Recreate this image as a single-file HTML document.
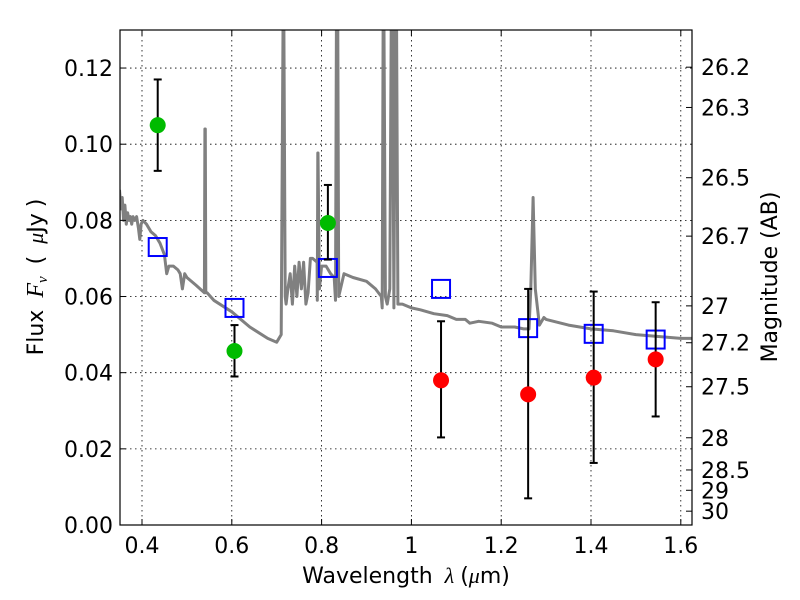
<!DOCTYPE html>
<html><head><meta charset="utf-8"><style>
html,body{margin:0;padding:0;background:#fff;}
svg{display:block;font-family:"DejaVu Sans","Liberation Sans",sans-serif;}
</style></head><body>
<svg id="chart" width="800" height="600" viewBox="0 0 800 600" xmlns="http://www.w3.org/2000/svg"></svg>
<script>
// ---- data ----
const xTicks = [0.4, 0.6, 0.8, 1.0, 1.2, 1.4, 1.6];
const xTickLabels = ["0.4","0.6","0.8","1","1.2","1.4","1.6"];
const yTicks = [0, 0.02, 0.04, 0.06, 0.08, 0.10, 0.12];
const yTickLabels = ["0.00","0.02","0.04","0.06","0.08","0.10","0.12"];
const magTicks = [26.2, 26.3, 26.5, 26.7, 27, 27.2, 27.5, 28, 28.5, 29, 30];
const magTickLabels = ["26.2","26.3","26.5","26.7","27","27.2","27.5","28","28.5","29","30"];
const greenLam = [0.435, 0.606, 0.814];
const greenFlux = [0.105, 0.0457, 0.0793];
const greenLo = [0.093, 0.039, 0.0697];
const greenHi = [0.117, 0.0525, 0.0893];
const redLam = [1.066, 1.26, 1.406, 1.544];
const redFlux = [0.038, 0.0343, 0.0387, 0.0435];
const redLo = [0.023, 0.007, 0.0163, 0.0285];
const redHi = [0.0535, 0.062, 0.0613, 0.0585];
const modelLam = [0.435, 0.606, 0.814, 1.066, 1.26, 1.406, 1.544];
const modelFlux = [0.073, 0.057, 0.0675, 0.062, 0.0517, 0.0502, 0.0487];
const specLam = [0.350,0.353,0.356,0.359,0.362,0.365,0.368,0.371,0.374,0.377,0.380,0.384,0.388,0.392,0.395,0.398,0.402,0.41,0.42,0.43,0.44,0.45,0.455,0.46,0.47,0.48,0.485,0.49,0.495,0.50,0.52,0.539,0.540,0.541,0.542,0.545,0.56,0.60,0.64,0.68,0.70,0.71,0.714,0.716,0.719,0.721,0.725,0.73,0.735,0.74,0.745,0.75,0.755,0.76,0.765,0.77,0.775,0.78,0.79,0.7905,0.7915,0.792,0.795,0.80,0.81,0.82,0.828,0.831,0.833,0.836,0.838,0.842,0.85,0.87,0.90,0.92,0.933,0.935,0.937,0.939,0.942,0.946,0.952,0.955,0.958,0.961,0.964,0.967,0.970,0.975,0.98,1.0,1.02,1.05,1.08,1.10,1.12,1.13,1.15,1.18,1.2,1.23,1.25,1.262,1.266,1.271,1.276,1.285,1.295,1.30,1.35,1.40,1.45,1.50,1.55,1.60,1.63];
const specFlux = [0.088,0.083,0.086,0.080,0.084,0.079,0.082,0.080,0.081,0.079,0.081,0.080,0.081,0.078,0.075,0.079,0.080,0.079,0.077,0.076,0.074,0.071,0.066,0.068,0.068,0.067,0.066,0.062,0.066,0.065,0.063,0.061,0.104,0.104,0.061,0.061,0.059,0.056,0.052,0.049,0.048,0.050,0.13,0.13,0.06,0.058,0.062,0.066,0.058,0.068,0.060,0.069,0.062,0.069,0.058,0.061,0.070,0.070,0.069,0.059,0.0977,0.0977,0.062,0.068,0.068,0.066,0.065,0.059,0.13,0.13,0.060,0.062,0.066,0.065,0.064,0.062,0.060,0.057,0.13,0.13,0.060,0.058,0.062,0.13,0.13,0.057,0.13,0.13,0.058,0.058,0.058,0.057,0.0565,0.0555,0.055,0.054,0.054,0.053,0.0535,0.053,0.052,0.052,0.0515,0.0515,0.062,0.086,0.062,0.0525,0.0545,0.054,0.0525,0.0515,0.051,0.050,0.0495,0.049,0.049];

// ---- axes ----
const L=120, R=692, T=30, B=525;
const X = l => 142 + (l - 0.4) * 449;
const Y = f => B - f * 3808;
const magToFlux = m => Math.pow(10, (23.9 - m) / 2.5);
const NS = "http://www.w3.org/2000/svg";
const svg = document.getElementById('chart');
function mk(tag, attrs, parent) {
  const e = document.createElementNS(NS, tag);
  for (const k in attrs) e.setAttribute(k, attrs[k]);
  (parent || svg).appendChild(e);
  return e;
}
const clip = mk('clipPath', {id:'pc'}); mk('rect',{x:L,y:T,width:R-L,height:B-T},clip);

// grid
const grid = mk('g', {stroke:'#000','stroke-width':0.8,'stroke-dasharray':'1.5,3.5',fill:'none'});


xTicks.forEach(v => mk('line',{x1:X(v),x2:X(v),y1:T,y2:B},grid));
yTicks.forEach(v => mk('line',{x1:L,x2:R,y1:Y(v),y2:Y(v)},grid));

// spectrum
let d = specLam.map((l,i)=>(i?'L':'M')+X(l).toFixed(1)+','+Y(specFlux[i]).toFixed(1)).join(' ');
const spec = mk('path',{d:d,fill:'none',stroke:'#808080','stroke-width':3,'stroke-linejoin':'round','clip-path':'url(#pc)'});



// model squares
modelLam.forEach((l,i)=>{
  const s = mk('rect',{x:X(l)-9,y:Y(modelFlux[i])-9,width:18,height:18,fill:'none',stroke:'#0000ff','stroke-width':2});
  
  
});

// error bars + points
function pts(lam, fl, lo, hi, color, nm) {
  lam.forEach((l,i)=>{
    const g = mk('g',{stroke:'#000','stroke-width':2});
    
    
    const x = X(l);
    mk('line',{x1:x,x2:x,y1:Y(lo[i]),y2:Y(hi[i])},g);
    mk('line',{x1:x-4,x2:x+4,y1:Y(lo[i]),y2:Y(lo[i])},g);
    mk('line',{x1:x-4,x2:x+4,y1:Y(hi[i]),y2:Y(hi[i])},g);
    const c = mk('circle',{cx:x,cy:Y(fl[i]),r:8,fill:color});
    
    
  });
}
pts(greenLam, greenFlux, greenLo, greenHi, '#00bb00', 'detection');
pts(redLam, redFlux, redLo, redHi, '#ff0000', 'nir');

// frame
const fr = mk('rect',{x:L,y:T,width:R-L,height:B-T,fill:'none',stroke:'#000','stroke-width':1.2});



// ticks and labels
xTicks.forEach((v,i)=>{
  mk('line',{x1:X(v),x2:X(v),y1:B,y2:B-6,stroke:'#000'});
  mk('line',{x1:X(v),x2:X(v),y1:T,y2:T+6,stroke:'#000'});
  const t = mk('text',{x:X(v),y:B+28,'text-anchor':'middle','font-size':22});
  t.textContent = xTickLabels[i];
  
  
});
yTicks.forEach((v,i)=>{
  mk('line',{x1:L,x2:L+6,y1:Y(v),y2:Y(v),stroke:'#000'});
  const t = mk('text',{x:L-7,y:Y(v)+8,'text-anchor':'end','font-size':22});
  t.textContent = yTickLabels[i];
  
  
});
magTicks.forEach((m,i)=>{
  const y = Y(magToFlux(m));
  mk('line',{x1:R,x2:R-6,y1:y,y2:y,stroke:'#000'});
  const t = mk('text',{x:R+9,y:y+8,'font-size':22});
  t.textContent = magTickLabels[i];
  
  
});

// axis titles
const xt = mk('text',{x:406,y:583,'text-anchor':'middle','font-size':22});
xt.innerHTML = 'Wavelength<tspan dx="12" font-family="Liberation Serif, serif" font-style="italic">λ</tspan><tspan dx="6">(</tspan><tspan font-family="Liberation Serif, serif" font-style="italic">μ</tspan>m)';


const yt = mk('text',{x:0,y:0,'text-anchor':'middle','font-size':22,transform:'translate(43,277) rotate(-90)'});
yt.innerHTML = 'Flux<tspan dx="12" font-family="Liberation Serif, serif" font-style="italic" font-size="24">F<tspan font-size="15" dy="4">ν</tspan></tspan><tspan dx="12" dy="-4">(</tspan><tspan dx="12" font-family="Liberation Serif, serif" font-style="italic">μ</tspan>Jy<tspan dx="6">)</tspan>';


const rt = mk('text',{x:0,y:0,'text-anchor':'middle','font-size':22,transform:'translate(777,277) rotate(-90)'});
rt.textContent = 'Magnitude (AB)';


</script>
</body></html>
